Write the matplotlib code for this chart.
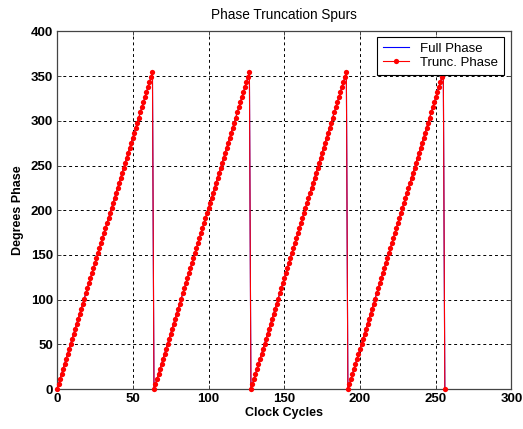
import matplotlib
matplotlib.use('Agg')
import matplotlib.pyplot as plt
import numpy as np

# One ramp of the phase accumulator, degrees (64 samples)
ramp_deg = [0.0, 5.625, 11.25, 16.875, 22.5, 28.125, 33.75, 39.375,
            45.0, 50.625, 56.25, 61.875, 67.5, 73.125, 78.75, 84.375,
            90.0, 95.625, 101.25, 106.875, 112.5, 118.125, 123.75, 129.375,
            135.0, 140.625, 146.25, 151.875, 157.5, 163.125, 168.75, 174.375,
            180.0, 185.625, 191.25, 196.875, 202.5, 208.125, 213.75, 219.375,
            225.0, 230.625, 236.25, 241.875, 247.5, 253.125, 258.75, 264.375,
            270.0, 275.625, 281.25, 286.875, 292.5, 298.125, 303.75, 309.375,
            315.0, 320.625, 326.25, 331.875, 337.5, 343.125, 348.75, 354.375]

# Four wraps, then the sample at 256 back at zero
full_phase = ramp_deg * 4 + [0.0]
trunc_phase = ramp_deg * 4 + [0.0]
clock = list(range(len(full_phase)))

x_ticks = [0, 50, 100, 150, 200, 250, 300]
y_ticks = [0, 50, 100, 150, 200, 250, 300, 350, 400]

plt.rcParams['font.family'] = ['Liberation Sans', 'DejaVu Sans']

fig = plt.figure(figsize=(5.23, 4.29), dpi=100)
ax = fig.add_axes([0.109, 0.0932, 0.869, 0.8334])

ax.plot(clock, full_phase, color='blue', linewidth=0.8, label='Full Phase', zorder=3)
ax.plot(clock, trunc_phase, color='red', linewidth=0.8, marker='o', markersize=3.8,
        markeredgewidth=0, label='Trunc. Phase', zorder=4, clip_on=False)

ax.set_xlim(0, 300)
ax.set_ylim(0, 400)
ax.set_xticks(x_ticks)
ax.set_yticks(y_ticks)
ax.set_xticklabels([str(t) for t in x_ticks], fontsize=9.5, fontweight='bold')
ax.set_yticklabels([str(t) for t in y_ticks], fontsize=9.5, fontweight='bold')

ax.grid(True, color='black', linestyle=(0, (3, 3)), linewidth=0.7)
ax.tick_params(direction='in', length=3, width=0.7, color='#444444', pad=3,
               top=True, right=True)
for s in ax.spines.values():
    s.set_color('#444444')
    s.set_linewidth(0.9)

ax.set_title('Phase Truncation Spurs', fontsize=9.8, pad=9)
ax.set_xlabel('Clock Cycles', fontsize=9, fontweight='bold', labelpad=1)
ax.set_ylabel('Degrees Phase', fontsize=9, fontweight='bold', labelpad=5)

leg = ax.legend(loc='upper right', bbox_to_anchor=(0.983, 0.985), borderaxespad=0,
                fontsize=9.5, frameon=True, fancybox=False,
                handlelength=2.0, handletextpad=0.8, borderpad=0.45, labelspacing=0.1,
                framealpha=1)
leg.get_frame().set_edgecolor('black')
leg.get_frame().set_linewidth(0.8)

fig.savefig('out.png', dpi=100)
